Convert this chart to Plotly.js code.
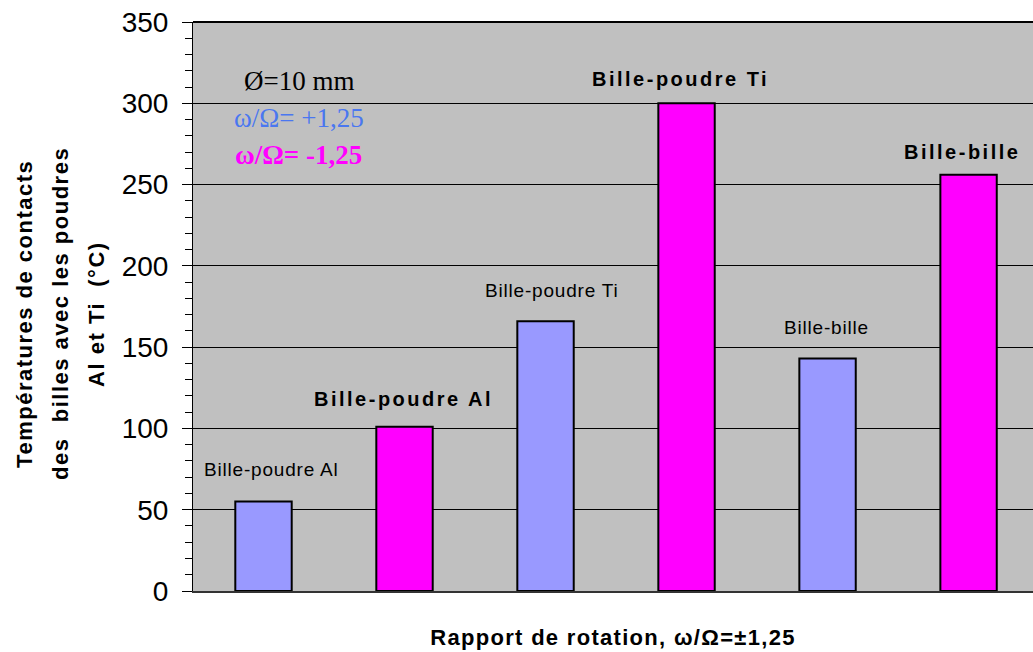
<!DOCTYPE html>
<html>
<head>
<meta charset="utf-8">
<script src="https://cdn.plot.ly/plotly-3.0.1.min.js"></script>
<style>html,body{margin:0;padding:0;background:#fff;}#chart{width:1033px;height:652px;}</style>
</head>
<body>
<div id="chart"></div>
<script>
// Data
const positions = [0, 1, 2, 3, 4, 5];
const temperatures = [55, 101, 166, 300, 143, 256];
const barColors = ['#9999ff', '#ff00ff', '#9999ff', '#ff00ff', '#9999ff', '#ff00ff'];
const barLabels = ['Bille-poudre Al', 'Bille-poudre Al', 'Bille-poudre Ti', 'Bille-poudre Ti', 'Bille-bille', 'Bille-bille'];
const labelBold = [false, true, false, true, false, true];
const labelX = [0.06, 0.99, 2.04, 2.96, 3.99, 4.95];
const labelY = [75, 118, 185, 315, 162, 270];
const legendLines = ['Ø=10 mm', 'ω/Ω= +1,25', '<b>ω/Ω= -1,25</b>'];
const legendColors = ['#000000', '#4a77f0', '#ff00ff'];
const legendY = [314, 291, 268];
const yTicks = [0, 50, 100, 150, 200, 250, 300, 350];
const yTitleLines = ['Températures de contacts', 'des  billes avec les poudres', 'Al et Ti  (°C)'];
const xTitle = 'Rapport de rotation, ω/Ω=±1,25';

const trace = {
  type: 'bar',
  x: positions,
  y: temperatures,
  width: 0.4,
  marker: {color: barColors, line: {color: '#000000', width: 2}},
  hoverinfo: 'y'
};

const annotations = [];
barLabels.forEach((t, i) => {
  annotations.push({
    x: labelX[i], y: labelY[i], xref: 'x', yref: 'y',
    text: labelBold[i]
      ? '<b><span style="letter-spacing:2.5px">' + t + '</span></b>'
      : '<span style="letter-spacing:0.8px">' + t + '</span>',
    showarrow: false, xanchor: 'center', yanchor: 'middle',
    font: {family: 'Liberation Sans, Arial, sans-serif', size: labelBold[i] ? 20 : 19, color: '#000000'}
  });
});
legendLines.forEach((t, i) => {
  annotations.push({
    x: 0.25, y: legendY[i], xref: 'x', yref: 'y',
    text: t, showarrow: false, xanchor: 'center', yanchor: 'middle',
    font: {family: 'Liberation Serif, Times New Roman, serif', size: 27, color: legendColors[i]}
  });
});
const yTitleShift = [-168, -132, -96];
yTitleLines.forEach((t, i) => {
  annotations.push({
    x: 0, y: 0.487, xref: 'paper', yref: 'paper',
    xshift: yTitleShift[i], textangle: -90,
    text: '<b><span style="letter-spacing:1.5px">' + t + '</span></b>',
    showarrow: false, xanchor: 'center', yanchor: 'middle',
    font: {family: 'Liberation Sans, Arial, sans-serif', size: 22, color: '#000000'}
  });
});

const layout = {
  width: 1033, height: 652,
  margin: {l: 193, r: 0, t: 22, b: 61},
  paper_bgcolor: '#ffffff',
  plot_bgcolor: '#c0c0c0',
  showlegend: false,
  font: {family: 'Liberation Sans, Arial, sans-serif', color: '#000000'},
  xaxis: {
    range: [-0.5, 5.457],
    showticklabels: false, ticks: '', showgrid: false, zeroline: false,
    showline: true, linecolor: '#333333', linewidth: 2,
    title: {text: '<b><span style="letter-spacing:1.3px">' + xTitle + '</span></b>', font: {size: 22, color: '#000000'}, standoff: 38}
  },
  yaxis: {
    range: [0, 350],
    tickvals: yTicks, ticktext: yTicks.map(String),
    tickfont: {size: 28, color: '#000000'},
    ticks: 'outside', ticklen: 10, tickwidth: 1, tickcolor: '#000000',
    ticklabelstandoff: 8,
    minor: {dtick: 10, tick0: 0, ticks: 'outside', ticklen: 7, tickwidth: 1, tickcolor: '#000000', showgrid: false},
    showgrid: true, gridcolor: '#000000', gridwidth: 1,
    zeroline: false,
    showline: true, linecolor: '#000000', linewidth: 1
  },
  annotations: annotations,
  shapes: [
    {type: 'line', xref: 'paper', yref: 'paper', x0: 0, x1: 1, y0: 1, y1: 1, line: {color: '#000000', width: 2}}
  ]
};

Plotly.newPlot('chart', [trace], layout, {staticPlot: true, displayModeBar: false});
</script>
</body>
</html>
